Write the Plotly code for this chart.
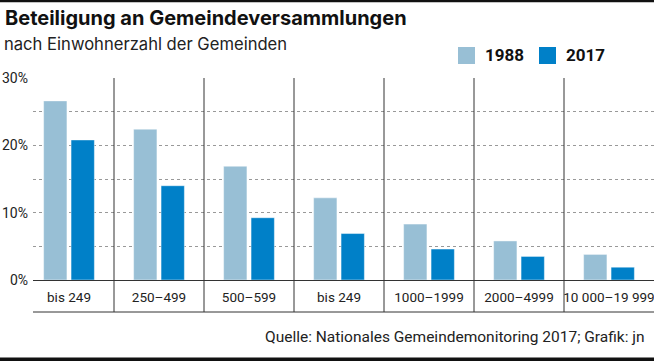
import plotly.graph_objects as go

categories = ["bis 249", "250–499", "500–599", "bis 249", "1000–1999", "2000–4999", "10 000–19 999"]
years = ["1988", "2017"]
values_1988 = [26.6, 22.4, 16.9, 12.2, 8.3, 5.8, 3.8]
values_2017 = [20.8, 14.0, 9.25, 6.9, 4.6, 3.5, 1.9]
y_ticks = [0, 10, 20, 30]
y_tick_labels = ["0%", "10%", "20%", "30%"]
colors = ["#98bfd5", "#0080c8"]

W, H = 654, 361
L, R, T, B = 33, 0, 78, 81
PW, PH = W - L - R, H - T - B

def px(xp):
    return (xp - L) / PW

def py(yp):
    return (H - B - yp) / PH

FONT = "Roboto"
TFONT = "Inter"
x_idx = list(range(len(categories)))

fig = go.Figure()
for name, vals, col in zip(years, [values_1988, values_2017], colors):
    fig.add_trace(go.Bar(
        x=x_idx, y=vals, name=name, marker_color=col,
        marker_line=dict(color="rgba(255,255,255,0.45)", width=1),
        showlegend=False, hoverinfo="skip"))

shapes = []
for i in range(len(categories) - 1):
    shapes.append(dict(type="line", xref="x", yref="paper", x0=i + 0.5, x1=i + 0.5,
                       y0=1, y1=py(312), line=dict(color="#333333", width=1)))
shapes.append(dict(type="line", xref="paper", yref="paper", x0=0, x1=1,
                   y0=py(312), y1=py(312), line=dict(color="#333333", width=1)))
shapes.append(dict(type="rect", xref="paper", yref="paper", x0=px(0), x1=px(W),
                   y0=py(0), y1=py(2.2), fillcolor="#111111", line_width=0))
shapes.append(dict(type="rect", xref="paper", yref="paper", x0=px(0), x1=px(W),
                   y0=py(357.5), y1=py(362), fillcolor="#111111", line_width=0))

annotations = [
    dict(text="<b>Beteiligung an Gemeindeversammlungen</b>", xref="paper", yref="paper",
         x=px(3), y=py(18), xanchor="left", yanchor="middle", showarrow=False,
         font=dict(family=TFONT, size=20, color="#111111")),
    dict(text="nach Einwohnerzahl der Gemeinden", xref="paper", yref="paper",
         x=px(2), y=py(44), xanchor="left", yanchor="middle", showarrow=False,
         font=dict(family=TFONT, size=16.6, color="#222222")),
    dict(text="Quelle: Nationales Gemeindemonitoring 2017; Grafik: jn", xref="paper", yref="paper",
         x=px(647), y=py(337), xanchor="right", yanchor="middle", showarrow=False,
         font=dict(family=FONT, size=15.5, color="#222222")),
]
leg_x = [458, 539]
for name, col, lx in zip(years, colors, leg_x):
    shapes.append(dict(type="rect", xref="paper", yref="paper", x0=px(lx), x1=px(lx + 17),
                       y0=py(47), y1=py(64), fillcolor=col, line_width=0))
    annotations.append(dict(text="<b>" + name + "</b>", xref="paper", yref="paper",
                            x=px(lx + 25), y=py(55.5), xanchor="left", yanchor="middle",
                            showarrow=False, font=dict(family=FONT, size=17, color="#111111")))

fig.update_layout(
    width=W, height=H, margin=dict(l=L, r=R, t=T, b=B),
    paper_bgcolor="white", plot_bgcolor="white",
    barmode="group", bargap=0.39, bargroupgap=0.15,
    shapes=shapes, annotations=annotations,
    font=dict(family=FONT, size=14, color="#222222"),
    xaxis=dict(range=[-0.4, 6.5], tickvals=x_idx, ticktext=categories, showgrid=False,
               zeroline=False, showline=True, linecolor="#333333", linewidth=1,
               ticks="outside", ticklen=5, tickcolor="rgba(0,0,0,0)",
               ticklabeloverflow="allow",
               tickfont=dict(family=FONT, size=13.5, color="#222222"), fixedrange=True),
    yaxis=dict(range=[0, 30], tickvals=y_ticks, ticktext=y_tick_labels,
               showgrid=True, gridcolor="#999999", griddash="dot", gridwidth=1,
               minor=dict(dtick=5, showgrid=True, gridcolor="#999999", griddash="dot", gridwidth=1),
               zeroline=False, ticks="", ticklabelstandoff=4,
               tickfont=dict(family=FONT, size=14, color="#222222"), fixedrange=True),
)
fig.write_html("out.html", config={"displayModeBar": False},
               post_script="document.body.style.margin='0';document.body.style.overflow='hidden';")
